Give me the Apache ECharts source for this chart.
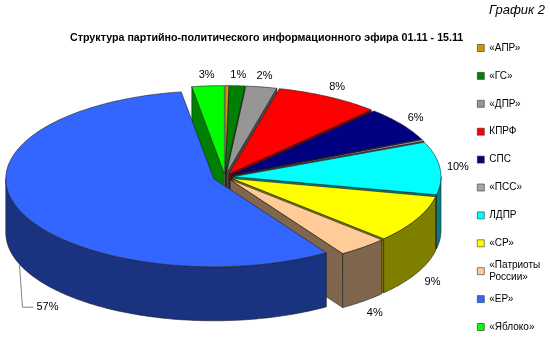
<!DOCTYPE html>
<html><head><meta charset="utf-8">
<script src="https://cdn.jsdelivr.net/npm/echarts@6/dist/echarts.min.js"></script>
<style>html,body{margin:0;padding:0;background:#fff}#c{width:550px;height:352px}</style>
</head><body><div id="c"></div>
<script>
// ---- data ----
const categories = ['«АПР»','«ГС»','«ДПР»','КПРФ','СПС','«ПСС»','ЛДПР','«СР»','«Патриоты России»','«ЕР»','«Яблоко»'];
const values = [0.3, 1.2, 2.4, 8.1, 6.3, 0.3, 9.7, 8.7, 3.9, 56.6, 2.5];
const colors = ['#CC9900','#008000','#969696','#FF0000','#000080','#A6A6A6','#00FFFF','#FFFF00','#FFCC99','#3366FF','#00FF00'];
const titleText = 'Структура партийно-политического информационного эфира 01.11 - 15.11';
const cornerText = 'График 2';

// ---- layout / style ----
const PIE = {cx: 225, cy: 177, rx: 208, ry: 88, depth: 54};
const EXPLODE = 8, EXPLODE_MAX = 12;
const FONT = '"Liberation Sans", Arial, sans-serif';

const total = values.reduce((a, b) => a + b, 0);
const maxIdx = values.indexOf(Math.max.apply(null, values));
let acc = 0;
const slices = values.map((v, i) => {
  const a0 = acc / total * 360; acc += v;
  const a1 = acc / total * 360;
  const mid = (a0 + a1) / 2, mr = mid * Math.PI / 180;
  const e = i === maxIdx ? EXPLODE_MAX : EXPLODE;
  const ox = e * Math.sin(mr), oy = -e * Math.cos(mr) * PIE.ry / PIE.rx;
  return {a0, a1, mid, c: [PIE.cx + ox, PIE.cy + oy], pct: Math.round(v / total * 100)};
});

function P(c, a, dz) {
  const r = a * Math.PI / 180;
  return [c[0] + PIE.rx * Math.sin(r), c[1] - PIE.ry * Math.cos(r) + (dz || 0)];
}
function arc(c, a0, a1, dz) {
  const n = Math.max(2, Math.ceil((a1 - a0) / 1));
  const pts = [];
  for (let k = 0; k <= n; k++) pts.push(P(c, a0 + (a1 - a0) * k / n, dz));
  return pts;
}
function darken(hex, f) {
  const n = parseInt(hex.slice(1), 16);
  const r = Math.round(((n >> 16) & 255) * f), g = Math.round(((n >> 8) & 255) * f), b = Math.round((n & 255) * f);
  return 'rgb(' + r + ',' + g + ',' + b + ')';
}
const STROKE = '#1e1e1e', LW = 0.6;

function makeRender(i) {
  return function (params, api) {
    const s = slices[i], c = s.c, D = PIE.depth;
    const side = darken(colors[i], 0.5);
    const ch = [];
    const sinA0 = Math.sin(s.a0 * Math.PI / 180), sinA1 = Math.sin(s.a1 * Math.PI / 180);
    // radial walls (only the ones facing viewer)
    [[s.a0, sinA0 < -1e-6], [s.a1, sinA1 > 1e-6]].forEach(([a, vis]) => {
      if (!vis) return;
      const r = P(c, a);
      const pts = [c, r, [r[0], r[1] + D], [c[0], c[1] + D]];
      ch.push({type: 'polygon', z2: 10 + (c[1] + r[1]) / 2000,
        shape: {points: pts}, style: {fill: side, stroke: STROKE, lineWidth: LW}});
    });
    // outer wall, front half (90..270 deg)
    const f0 = Math.max(s.a0, 90), f1 = Math.min(s.a1, 270);
    if (f1 > f0) {
      const top = arc(c, f0, f1, 0), bot = arc(c, f0, f1, D).reverse();
      ch.push({type: 'polygon', z2: 20, shape: {points: top.concat(bot)},
        style: {fill: side, stroke: STROKE, lineWidth: LW}});
    }
    // top face
    ch.push({type: 'polygon', z2: 30, shape: {points: [c].concat(arc(c, s.a0, s.a1, 0))},
      style: {fill: colors[i], stroke: STROKE, lineWidth: LW}});
    // label
    if (s.pct > 0) {
      const mr = s.mid * Math.PI / 180, sn = Math.sin(mr), cs = Math.cos(mr);
      const lx = PIE.cx + (PIE.rx + 26) * sn;
      const ly = PIE.cy - (PIE.ry + 14) * cs + (cs < 0 ? D + 4 : 0);
      const txt = s.pct + '%';
      if (lx - 12 < 8) {
        const st = P(c, s.mid, D);
        const p1 = [st[0] + 3, st[1] + 43], p2 = [st[0] + 14, st[1] + 43];
        ch.push({type: 'polyline', z2: 40, shape: {points: [st, p1, p2]},
          style: {stroke: '#808080', lineWidth: 1, fill: null}});
        ch.push({type: 'text', z2: 41, style: {text: txt, x: p2[0] + 3, y: p2[1], align: 'left',
          verticalAlign: 'middle', font: '11px ' + FONT, fill: '#000'}});
      } else {
        ch.push({type: 'text', z2: 41, style: {text: txt, x: lx, y: ly, align: 'center',
          verticalAlign: 'middle', font: '11px ' + FONT, fill: '#000'}});
      }
    }
    return {type: 'group', children: ch};
  };
}

const series = categories.map((name, i) => ({
  type: 'custom', name: name, coordinateSystem: 'none', data: [values[i]],
  itemStyle: {color: colors[i]}, renderItem: makeRender(i), animation: false, silent: true
}));

const STEP = 27.9, FIRST = 48, LH = 12;
const legendBase = {
  orient: 'vertical', left: 477, padding: 0, icon: 'rect', itemWidth: 7, itemHeight: 7,
  itemGap: STEP - LH, selectedMode: false,
  itemStyle: {borderColor: '#333', borderWidth: 0.6},
  textStyle: {fontFamily: FONT, fontSize: 10, color: '#000', lineHeight: LH}
};
const legends = [
  Object.assign({}, legendBase, {data: categories.slice(0, 8), top: FIRST - LH / 2}),
  Object.assign({}, legendBase, {data: categories.slice(8, 9), top: FIRST + 8 * STEP - 18,
    formatter: n => n.replace(' ', '\n'),
    textStyle: Object.assign({}, legendBase.textStyle, {padding: [12, 0, 0, 0]})}),
  Object.assign({}, legendBase, {data: categories.slice(9), top: FIRST + 9 * STEP - LH / 2})
];

const chart = echarts.init(document.getElementById('c'), null, {renderer: 'canvas'});
chart.setOption({
  backgroundColor: '#fff',
  animation: false,
  title: [
    {text: titleText, left: 70, top: 33, padding: 0,
      textStyle: {fontFamily: FONT, fontSize: 10.7, fontWeight: 'bold', color: '#000'}},
    {text: cornerText, right: 5, top: 4, padding: 0,
      textStyle: {fontFamily: FONT, fontSize: 13, fontWeight: 'normal', fontStyle: 'italic', color: '#000'}}
  ],
  legend: legends,
  series: series
});
</script></body></html>
